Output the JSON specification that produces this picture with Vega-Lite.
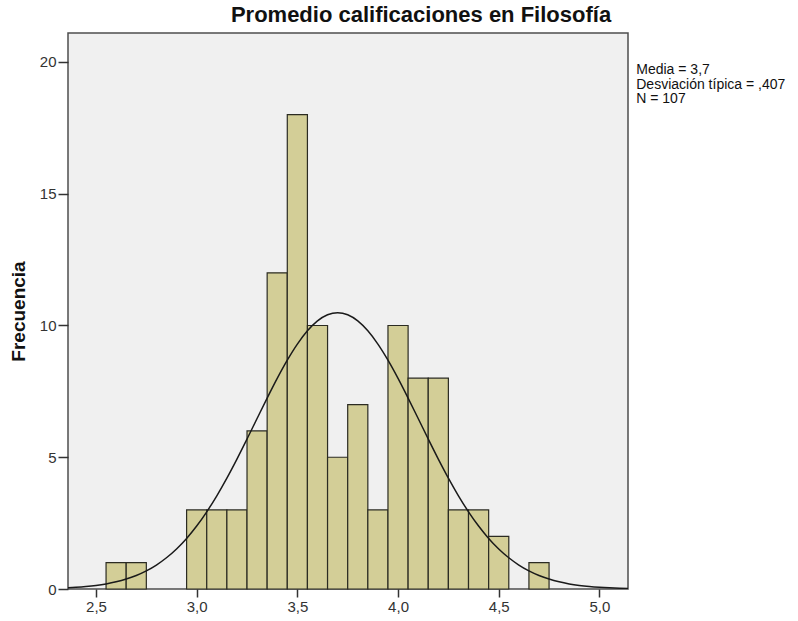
{
  "$schema": "https://vega.github.io/schema/vega-lite/v6.json",
  "width": 560,
  "height": 556,
  "autosize": {"type": "none"},
  "padding": {"left": 68, "top": 33, "right": 170, "bottom": 32},
  "background": "white",
  "config": {
    "font": "Liberation Sans",
    "view": {"fill": "#F0F0F0", "stroke": "#4D4D4D", "strokeWidth": 1.5},
    "axis": {"domain": false, "grid": false, "tickColor": "#333333", "tickWidth": 1.5, "labelColor": "#333333", "labelFont": "Liberation Sans", "labelFontSize": 15, "titleFont": "Liberation Sans"}
  },
  "title": {"text": "Promedio calificaciones en Filosofía", "fontSize": 22, "fontWeight": "bold", "color": "#111111", "anchor": "middle", "dx": 73, "offset": 6, "font": "Liberation Sans"},
  "datasets": {
    "bars": [
      {"bin_start": 2.55, "bin_end": 2.65, "count": 1},
      {"bin_start": 2.65, "bin_end": 2.75, "count": 1},
      {"bin_start": 2.95, "bin_end": 3.05, "count": 3},
      {"bin_start": 3.05, "bin_end": 3.15, "count": 3},
      {"bin_start": 3.15, "bin_end": 3.25, "count": 3},
      {"bin_start": 3.25, "bin_end": 3.35, "count": 6},
      {"bin_start": 3.35, "bin_end": 3.45, "count": 12},
      {"bin_start": 3.45, "bin_end": 3.55, "count": 18},
      {"bin_start": 3.55, "bin_end": 3.65, "count": 10},
      {"bin_start": 3.65, "bin_end": 3.75, "count": 5},
      {"bin_start": 3.75, "bin_end": 3.85, "count": 7},
      {"bin_start": 3.85, "bin_end": 3.95, "count": 3},
      {"bin_start": 3.95, "bin_end": 4.05, "count": 10},
      {"bin_start": 4.05, "bin_end": 4.15, "count": 8},
      {"bin_start": 4.15, "bin_end": 4.25, "count": 8},
      {"bin_start": 4.25, "bin_end": 4.35, "count": 3},
      {"bin_start": 4.35, "bin_end": 4.45, "count": 3},
      {"bin_start": 4.45, "bin_end": 4.55, "count": 2},
      {"bin_start": 4.65, "bin_end": 4.75, "count": 1}
    ],
    "curve": [
      {"x": 2.30, "y": 0.0283}, {"x": 2.35, "y": 0.0428}, {"x": 2.40, "y": 0.0639}, {"x": 2.45, "y": 0.0939},
      {"x": 2.50, "y": 0.1359}, {"x": 2.55, "y": 0.1937}, {"x": 2.60, "y": 0.2720}, {"x": 2.65, "y": 0.3762},
      {"x": 2.70, "y": 0.5126}, {"x": 2.75, "y": 0.6881}, {"x": 2.80, "y": 0.9096}, {"x": 2.85, "y": 1.1845},
      {"x": 2.90, "y": 1.5195}, {"x": 2.95, "y": 1.9201}, {"x": 3.00, "y": 2.3898}, {"x": 3.05, "y": 2.9296},
      {"x": 3.10, "y": 3.5382}, {"x": 3.15, "y": 4.2087}, {"x": 3.20, "y": 4.9310}, {"x": 3.25, "y": 5.6913},
      {"x": 3.30, "y": 6.4705}, {"x": 3.35, "y": 7.2459}, {"x": 3.40, "y": 7.9929}, {"x": 3.45, "y": 8.6844},
      {"x": 3.50, "y": 9.2948}, {"x": 3.55, "y": 9.7989}, {"x": 3.60, "y": 10.1757}, {"x": 3.65, "y": 10.4086},
      {"x": 3.70, "y": 10.4882}, {"x": 3.75, "y": 10.4086}, {"x": 3.80, "y": 10.1757}, {"x": 3.85, "y": 9.7989},
      {"x": 3.90, "y": 9.2948}, {"x": 3.95, "y": 8.6844}, {"x": 4.00, "y": 7.9929}, {"x": 4.05, "y": 7.2459},
      {"x": 4.10, "y": 6.4705}, {"x": 4.15, "y": 5.6913}, {"x": 4.20, "y": 4.9310}, {"x": 4.25, "y": 4.2087},
      {"x": 4.30, "y": 3.5382}, {"x": 4.35, "y": 2.9296}, {"x": 4.40, "y": 2.3898}, {"x": 4.45, "y": 1.9201},
      {"x": 4.50, "y": 1.5195}, {"x": 4.55, "y": 1.1845}, {"x": 4.60, "y": 0.9096}, {"x": 4.65, "y": 0.6881},
      {"x": 4.70, "y": 0.5126}, {"x": 4.75, "y": 0.3762}, {"x": 4.80, "y": 0.2720}, {"x": 4.85, "y": 0.1937},
      {"x": 4.90, "y": 0.1359}, {"x": 4.95, "y": 0.0939}, {"x": 5.00, "y": 0.0639}, {"x": 5.05, "y": 0.0428},
      {"x": 5.10, "y": 0.0283}, {"x": 5.15, "y": 0.0184}
    ],
    "stats": [
      {"label": ["Media = 3,7", "Desviación típica = ,407", "N = 107"]}
    ]
  },
  "layer": [
    {
      "data": {"name": "bars"},
      "mark": {"type": "rect", "fill": "#D3CE97", "stroke": "#2B2B22", "strokeWidth": 1.2},
      "encoding": {
        "x": {"field": "bin_start", "type": "quantitative",
              "scale": {"domain": [2.361, 5.142], "nice": false, "zero": false},
              "axis": {"values": [2.5, 3, 3.5, 4, 4.5, 5], "labelExpr": "replace(format(datum.value, '.1f'), '.', ',')", "tickSize": 8, "labelPadding": 2, "title": null}},
        "x2": {"field": "bin_end"},
        "y": {"field": "count", "type": "quantitative",
              "scale": {"domain": [0, 21.1], "nice": false},
              "axis": {"values": [0, 5, 10, 15, 20], "tickSize": 10, "labelPadding": 2, "title": "Frecuencia", "titleFontSize": 19, "titleFontWeight": "bold", "titleColor": "#111111", "titlePadding": 11}},
        "y2": {"datum": 0}
      }
    },
    {
      "data": {"name": "curve"},
      "mark": {"type": "line", "color": "#1A1A1A", "strokeWidth": 1.5, "clip": true, "interpolate": "monotone"},
      "encoding": {
        "x": {"field": "x", "type": "quantitative"},
        "y": {"field": "y", "type": "quantitative"}
      }
    },
    {
      "data": {"name": "stats"},
      "mark": {"type": "text", "align": "left", "baseline": "top", "fontSize": 14, "lineHeight": 14.5, "color": "#111111", "font": "Liberation Sans"},
      "encoding": {
        "x": {"datum": 5.183},
        "y": {"datum": 19.95},
        "text": {"field": "label"}
      }
    }
  ]
}
